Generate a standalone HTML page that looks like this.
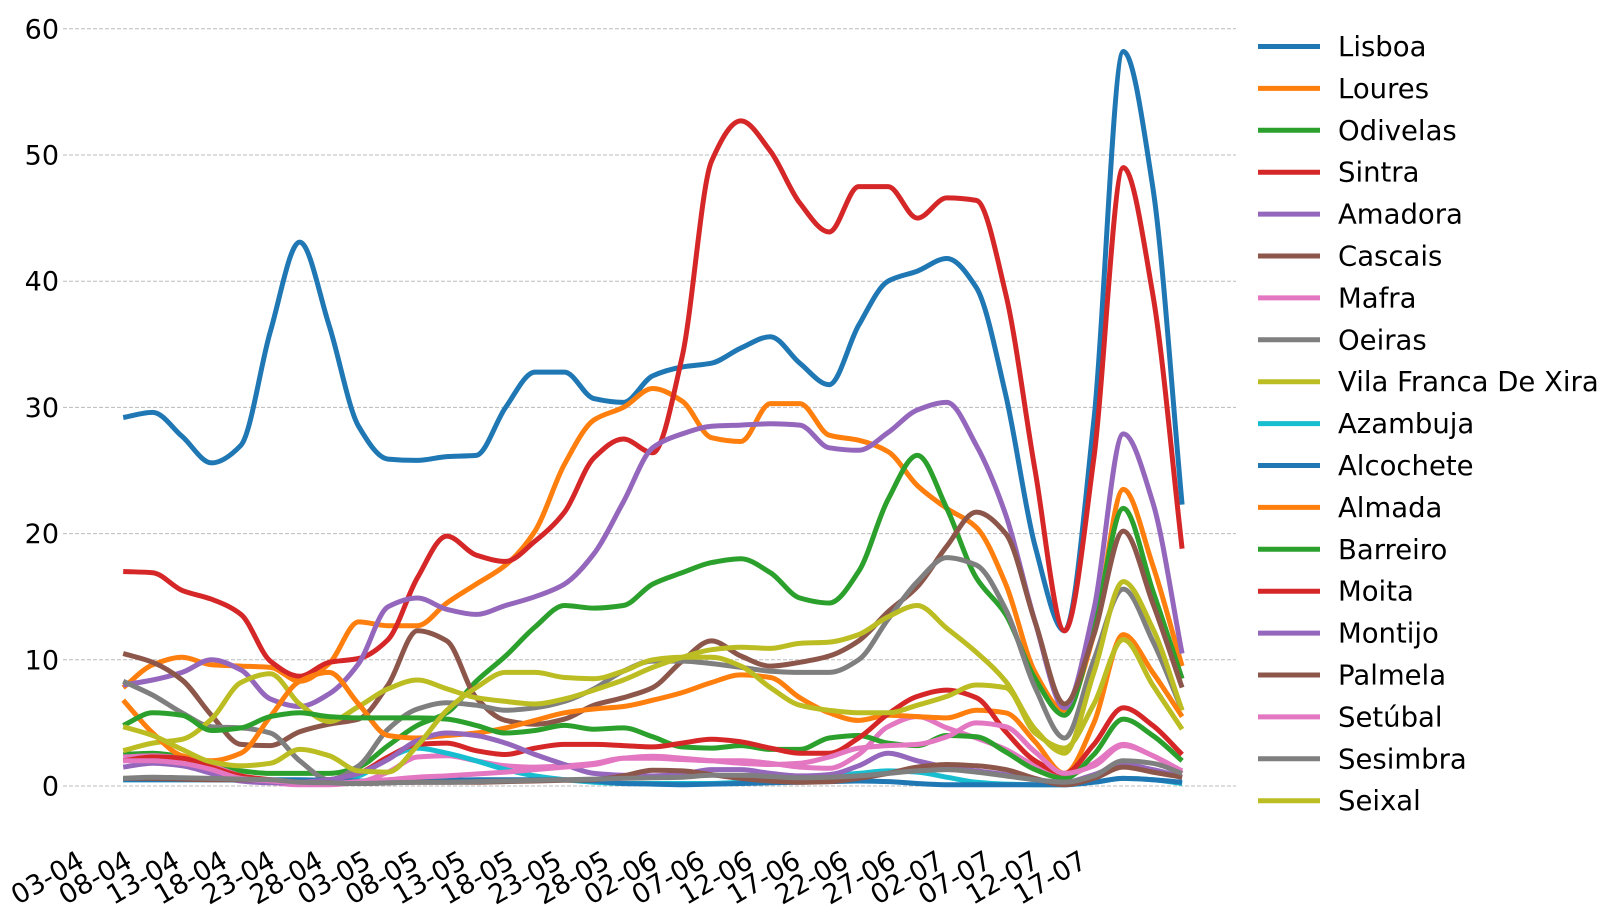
<!DOCTYPE html>
<html><head><meta charset="utf-8"><style>
html,body{margin:0;padding:0;background:#fff;}
svg{display:block;font-family:"DejaVu Sans","Liberation Sans",sans-serif;}
</style></head><body>
<svg id="chart" width="1621" height="910" viewBox="0 0 1621 910" xmlns="http://www.w3.org/2000/svg">
<g id="grid"></g>
<g id="yaxis"></g>
<g id="xaxis"></g>
<g id="series"></g>
<g id="legend"></g>
</svg>
<script>
const seriesNames = ["Lisboa","Loures","Odivelas","Sintra","Amadora","Cascais","Mafra","Oeiras","Vila Franca De Xira","Azambuja","Alcochete","Almada","Barreiro","Moita","Montijo","Palmela","Setúbal","Sesimbra","Seixal"];
const seriesColors = ["#1f77b4","#ff7f0e","#2ca02c","#d62728","#9467bd","#8c564b","#e377c2","#7f7f7f","#bcbd22","#17becf","#1f77b4","#ff7f0e","#2ca02c","#d62728","#9467bd","#8c564b","#e377c2","#7f7f7f","#bcbd22"];
const xTickLabels = ["03-04","08-04","13-04","18-04","23-04","28-04","03-05","08-05","13-05","18-05","23-05","28-05","02-06","07-06","12-06","17-06","22-06","27-06","02-07","07-07","12-07","17-07"];
const xTickDays = [0,5,10,15,20,25,30,35,40,45,50,55,60,65,70,75,80,85,90,95,100,105];
const yTicks = [0,10,20,30,40,50,60];
const sampleStartDay = 3.9;
const sampleStepDays = 3.08;

const vLisboa = [29.2,29.6,27.7,25.6,27,36,43.1,36.5,28.5,25.9,25.8,26.1,26.2,30,32.8,32.8,30.7,30.4,32.5,33.2,33.5,34.7,35.6,33.5,31.8,36.5,40,40.8,41.8,39.5,31,19,12.3,29,58.2,47.5,22.3];
const vLoures = [7.8,9.6,10.2,9.6,9.5,9.4,8.3,9.7,13,12.7,12.7,14.5,16,17.5,20.2,25.5,29,30,31.5,30.5,27.6,27.3,30.3,30.3,27.8,27.4,26.5,23.8,22,20.5,16,9,6,12,23.5,17.5,9.5];
const vOdivelas = [2.5,2.6,2.3,1.6,1.2,1.0,1.0,1.0,1.5,3.2,4.8,5.8,8.3,10.3,12.6,14.3,14.1,14.3,16,16.9,17.7,18,16.9,14.9,14.5,17,22.7,26.2,22,16.5,13.6,8.5,5.6,12.5,22,15.5,8.5];
const vSintra = [17,16.9,15.5,14.8,13.6,9.9,8.7,9.8,10.1,11.6,16.5,19.8,18.3,17.8,19.4,21.7,26,27.5,26.4,34,49.5,52.7,50.3,46.2,43.9,47.5,47.5,45,46.6,46.4,39,25,12.3,26,49,39,18.8];
const vAmadora = [8,8.4,9,10,9.2,6.9,6.3,7.3,9.7,14.2,14.9,14,13.6,14.3,15,16,18.4,22.5,26.8,27.9,28.5,28.6,28.7,28.6,26.8,26.6,28,29.8,30.4,27,21.5,13,6.2,14,27.9,22.5,10.5];
const vCascais = [10.5,9.8,8.4,5.6,3.3,3.2,4.3,4.9,5.3,8,12.3,11.5,7,5.2,4.9,5.3,6.4,7,7.8,9.9,11.5,10.3,9.5,9.8,10.3,11.5,13.8,15.8,19,21.7,20,13,6.5,12,20.2,14.5,7.8];
const vMafra = [2.3,2.4,2.2,1.6,0.8,0.3,0.1,0.1,0.3,1.1,2.3,2.4,2.0,1.6,1.5,1.6,1.8,2.2,2.2,2.1,2.0,2.0,1.8,1.5,1.4,2.5,4.7,5.5,4.6,3.8,2.9,1.6,0.8,1.8,3.3,2.4,1.2];
const vOeiras = [8.3,7.2,5.8,4.7,4.6,4.2,2,0.5,1.6,4.5,6.1,6.6,6.4,6,6.2,6.7,7.7,9.1,9.9,9.9,9.7,9.4,9.1,9,9,10,13.2,16.2,18.1,17.5,14,7.8,3.8,10,15.6,11.5,6];
const vVFX = [2.8,3.4,3.7,5.3,8.2,8.9,6.5,5.1,6.3,7.7,8.4,7.7,7,6.7,6.5,6.9,7.6,8.4,9.4,10.2,10.8,11,10.9,11.3,11.4,12,13.4,14.3,12.5,10.6,8.3,4.5,2.6,9,16.2,12.5,6];
const vAzambuja = [0.5,0.5,0.5,0.5,0.45,0.4,0.3,0.4,0.8,2.2,3.0,2.6,2.0,1.3,0.8,0.5,0.3,0.2,0.2,0.2,0.2,0.3,0.5,0.7,0.8,1.0,1.2,1.1,0.7,0.3,0.15,0.1,0.1,0.3,0.6,0.5,0.2];
const vAlcochete = [0.5,0.5,0.5,0.5,0.5,0.5,0.5,0.45,0.4,0.4,0.4,0.45,0.5,0.5,0.5,0.5,0.4,0.2,0.15,0.1,0.15,0.2,0.25,0.3,0.35,0.4,0.35,0.2,0.1,0.1,0.1,0.1,0.1,0.3,0.6,0.5,0.3];
const vAlmada = [6.8,4.2,2.4,2,2.6,5.5,8.3,9,6.5,4,3.8,4,4.2,4.6,5.2,5.8,6.1,6.3,6.8,7.4,8.2,8.8,8.6,7,5.8,5.2,5.6,5.5,5.4,6,5.8,3.5,1,5,12,9,5.5];
const vBarreiro = [4.8,5.8,5.6,4.4,4.6,5.5,5.8,5.5,5.4,5.4,5.4,5.3,4.8,4.2,4.4,4.8,4.5,4.6,3.9,3.1,3,3.2,2.9,2.9,3.8,4,3.4,3.2,4,3.9,2.7,1.3,0.6,2.5,5.3,4,2];
const vMoita = [2,2.3,2.2,1.5,0.8,0.5,0.3,0.5,1,2.3,3.3,3.4,2.8,2.5,3,3.3,3.3,3.2,3.1,3.4,3.7,3.5,3,2.6,2.6,3.8,5.7,7.1,7.6,7,4.3,2,1,3.3,6.2,4.8,2.5];
const vMontijo = [1.5,1.8,1.6,1.0,0.4,0.25,0.3,0.5,1.0,2.1,3.6,4.2,4.0,3.4,2.5,1.7,1.0,0.85,0.8,0.95,1.3,1.3,1.0,0.8,0.9,1.6,2.6,2.0,1.5,1.2,0.9,0.5,0.3,0.9,1.7,1.3,0.7];
const vPalmela = [0.6,0.6,0.55,0.5,0.5,0.45,0.3,0.25,0.2,0.25,0.3,0.3,0.3,0.35,0.4,0.45,0.5,0.8,1.25,1.2,0.9,0.6,0.4,0.3,0.35,0.6,1.0,1.5,1.7,1.6,1.3,0.6,0.1,0.6,1.5,1.1,0.7];
const vSetubal = [2,2,1.8,1.3,0.6,0.4,0.25,0.2,0.35,0.5,0.7,0.8,0.95,1.1,1.3,1.5,1.7,2.2,2.35,2.2,2.0,1.8,1.7,1.8,2.3,3.0,3.2,3.3,3.9,5.0,4.7,2.7,1,1.6,3.2,2.4,1];
const vSesimbra = [0.6,0.7,0.65,0.6,0.55,0.5,0.3,0.25,0.2,0.25,0.3,0.3,0.35,0.4,0.45,0.5,0.55,0.6,0.65,0.7,0.85,0.85,0.75,0.65,0.7,0.8,1.0,1.2,1.3,1.1,0.8,0.5,0.3,0.8,2.0,1.8,1.0];
const vSeixal = [4.7,4,2.9,1.9,1.6,1.8,2.9,2.4,1.2,1.1,3.2,6,7.8,9,9,8.6,8.5,9.1,10,10.2,10.2,9.5,7.8,6.4,6,5.8,5.8,6.4,7.1,8,7.8,4.2,3,6.5,11.6,8,4.5];

const seriesValues = [vLisboa,vLoures,vOdivelas,vSintra,vAmadora,vCascais,vMafra,vOeiras,vVFX,vAzambuja,vAlcochete,vAlmada,vBarreiro,vMoita,vMontijo,vPalmela,vSetubal,vSesimbra,vSeixal];

const NS = "http://www.w3.org/2000/svg";
function xScale(day){ return 86 + day * 9.55; }
function yScale(v){ return 786 - v * 12.62; }
function mk(tag, attrs, parent){
  const e = document.createElementNS(NS, tag);
  for (const k in attrs) e.setAttribute(k, attrs[k]);
  parent.appendChild(e);
  return e;
}
const gGrid = document.getElementById('grid');
const gY = document.getElementById('yaxis');
const gX = document.getElementById('xaxis');
const gS = document.getElementById('series');
const gL = document.getElementById('legend');

yTicks.forEach(function(t){
  const ln = mk('line', {x1:63, x2:1236, y1:yScale(t), y2:yScale(t), stroke:'#bbbbbb', 'stroke-width':1, 'stroke-dasharray':'4,2'}, gGrid);
  
  
  const tx = mk('text', {x:59, y:yScale(t)+9.5, 'text-anchor':'end', 'font-size':27, fill:'#000'}, gY);
  tx.textContent = String(t);
  
  
});

xTickLabels.forEach(function(lab, i){
  const x = xScale(xTickDays[i]);
  const y = 866;
  const tx = mk('text', {x:x, y:y, 'text-anchor':'end', 'font-size':27, fill:'#000', transform:'rotate(-30 '+x+' '+y+')'}, gX);
  tx.textContent = lab;
  
  
});

function monotonePath(pts){
  const n = pts.length;
  const dx = [], dy = [], m = [];
  for (let i = 0; i < n - 1; i++){ dx.push(pts[i+1][0]-pts[i][0]); dy.push(pts[i+1][1]-pts[i][1]); m.push(dy[i]/dx[i]); }
  const t = [m[0]];
  for (let i = 1; i < n - 1; i++){
    if (m[i-1] * m[i] <= 0) t.push(0);
    else t.push(3*(dx[i-1]+dx[i]) / ((2*dx[i]+dx[i-1])/m[i-1] + (dx[i]+2*dx[i-1])/m[i]));
  }
  t.push(m[n-2]);
  let d = 'M' + pts[0][0].toFixed(1) + ',' + pts[0][1].toFixed(1);
  for (let i = 0; i < n - 1; i++){
    const h = dx[i] / 3;
    d += ' C' + (pts[i][0]+h).toFixed(1) + ',' + (pts[i][1]+t[i]*h).toFixed(1) + ' ' +
         (pts[i+1][0]-h).toFixed(1) + ',' + (pts[i+1][1]-t[i+1]*h).toFixed(1) + ' ' +
         pts[i+1][0].toFixed(1) + ',' + pts[i+1][1].toFixed(1);
  }
  return d;
}

seriesValues.forEach(function(vals, s){
  const pts = vals.map(function(v, i){ return [xScale(sampleStartDay + i * sampleStepDays), yScale(v)]; });
  const p = mk('path', {d: monotonePath(pts), fill:'none', stroke:seriesColors[s], 'stroke-width':5, 'stroke-linejoin':'round', 'stroke-linecap':'butt'}, gS);
  
  
});

seriesNames.forEach(function(name, s){
  const cy = 46.5 + s * 41.9;
  const g = mk('g', {}, gL);
  
  
  mk('line', {x1:1258, x2:1320, y1:cy, y2:cy, stroke:seriesColors[s], 'stroke-width':5}, g);
  const tx = mk('text', {x:1338, y:cy+9.5, 'font-size':27.5, fill:'#000'}, g);
  tx.textContent = name;
});
</script>
</body></html>
